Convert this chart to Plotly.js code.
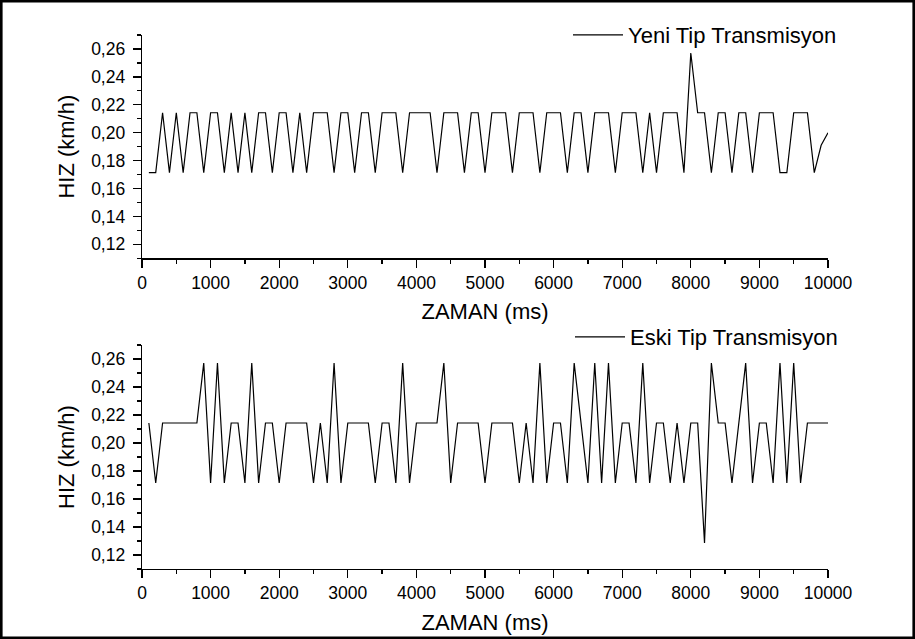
<!DOCTYPE html>
<html>
<head>
<meta charset="utf-8">
<script src="https://cdn.plot.ly/plotly-3.0.1.min.js"></script>
<style>
html,body{margin:0;padding:0;background:#fff;}
#chart{width:915px;height:639px;}
</style>
</head>
<body>
<div id="chart"></div>
<script>
// Time axis (ms)
const zaman = [100,200,300,400,500,600,700,800,900,1000,
  1100,1200,1300,1400,1500,1600,1700,1800,1900,2000,
  2100,2200,2300,2400,2500,2600,2700,2800,2900,3000,
  3100,3200,3300,3400,3500,3600,3700,3800,3900,4000,
  4100,4200,4300,4400,4500,4600,4700,4800,4900,5000,
  5100,5200,5300,5400,5500,5600,5700,5800,5900,6000,
  6100,6200,6300,6400,6500,6600,6700,6800,6900,7000,
  7100,7200,7300,7400,7500,7600,7700,7800,7900,8000,
  8100,8200,8300,8400,8500,8600,8700,8800,8900,9000,
  9100,9200,9300,9400,9500,9600,9700,9800,9900,10000];

// Yeni Tip Transmisyon speed (km/h)
const yeniHiz = [0.1714,0.1714,0.2143,0.1714,0.2143,0.1714,0.2143,0.2143,0.1714,0.2143,
  0.2143,0.1714,0.2143,0.1714,0.2143,0.1714,0.2143,0.2143,0.1714,0.2143,
  0.2143,0.1714,0.2143,0.1714,0.2143,0.2143,0.2143,0.1714,0.2143,0.2143,
  0.1714,0.2143,0.2143,0.1714,0.2143,0.2143,0.2143,0.1714,0.2143,0.2143,
  0.2143,0.2143,0.1714,0.2143,0.2143,0.2143,0.1714,0.2143,0.2143,0.1714,
  0.2143,0.2143,0.2143,0.1714,0.2143,0.2143,0.2143,0.1714,0.2143,0.2143,
  0.2143,0.1714,0.2143,0.2143,0.1714,0.2143,0.2143,0.2143,0.1714,0.2143,
  0.2143,0.2143,0.1714,0.2143,0.1714,0.2143,0.2143,0.2143,0.1714,0.2571,
  0.2143,0.2143,0.1714,0.2143,0.2143,0.1714,0.2143,0.2143,0.1714,0.2143,
  0.2143,0.2143,0.1714,0.1714,0.2143,0.2143,0.2143,0.1714,0.1910,0.2000];

// Eski Tip Transmisyon speed (km/h)
const eskiHiz = [0.2143,0.1714,0.2143,0.2143,0.2143,0.2143,0.2143,0.2143,0.2571,0.1714,
  0.2571,0.1714,0.2143,0.2143,0.1714,0.2571,0.1714,0.2143,0.2143,0.1714,
  0.2143,0.2143,0.2143,0.2143,0.1714,0.2143,0.1714,0.2571,0.1714,0.2143,
  0.2143,0.2143,0.2143,0.1714,0.2143,0.2143,0.1714,0.2571,0.1714,0.2143,
  0.2143,0.2143,0.2143,0.2571,0.1714,0.2143,0.2143,0.2143,0.2143,0.1714,
  0.2143,0.2143,0.2143,0.2143,0.1714,0.2143,0.1714,0.2571,0.1714,0.2143,
  0.2143,0.1714,0.2571,0.2143,0.1714,0.2571,0.1714,0.2571,0.1714,0.2143,
  0.2143,0.1714,0.2571,0.1714,0.2143,0.2143,0.1714,0.2143,0.1714,0.2143,
  0.2143,0.1286,0.2571,0.2143,0.2143,0.1714,0.2143,0.2571,0.1714,0.2143,
  0.2143,0.1714,0.2571,0.1714,0.2571,0.1714,0.2143,0.2143,0.2143,0.2143];

const seriesNames = ['Yeni Tip Transmisyon', 'Eski Tip Transmisyon'];
const xTickVals = [0,1000,2000,3000,4000,5000,6000,7000,8000,9000,10000];
const xTickText = ['0','1000','2000','3000','4000','5000','6000','7000','8000','9000','10000'];
const yTickVals = [0.12,0.14,0.16,0.18,0.20,0.22,0.24,0.26];
const yTickText = ['0,12','0,14','0,16','0,18','0,20','0,22','0,24','0,26'];
const xTitle = 'ZAMAN (ms)';
const yTitle = 'HIZ (km/h)';

const FONT = 'Liberation Sans, Arial, sans-serif';
const W = 915, H = 639;
const M = {l: 142, r: 87, t: 35, b: 70};
const PW = W - M.l - M.r, PH = H - M.t - M.b;

function xAxis(anchor) {
  return {
    anchor: anchor, domain: [0, 1], range: [0, 10000],
    tickmode: 'array', tickvals: xTickVals, ticktext: xTickText,
    ticks: 'outside', ticklen: 8, tickwidth: 1.3, tickcolor: '#000',
    minor: {tickmode: 'linear', tick0: 0, dtick: 500, ticks: 'outside', ticklen: 4, tickwidth: 1.3, tickcolor: '#000', showgrid: false},
    showline: true, linecolor: '#000', linewidth: 1.3, mirror: false,
    showgrid: false, zeroline: false,
    tickfont: {family: FONT, size: 17.5, color: '#000'},
    title: {text: xTitle, font: {family: FONT, size: 22, color: '#000'}, standoff: 12}
  };
}
function yAxis(anchor, domain) {
  return {
    anchor: anchor, domain: domain, range: [0.11, 0.27],
    tickmode: 'array', tickvals: yTickVals, ticktext: yTickText,
    ticks: 'outside', ticklen: 8, tickwidth: 1.3, tickcolor: '#000',
    minor: {tickmode: 'linear', tick0: 0.11, dtick: 0.01, ticks: 'outside', ticklen: 4, tickwidth: 1.3, tickcolor: '#000', showgrid: false},
    showline: true, linecolor: '#000', linewidth: 1.3, mirror: false,
    showgrid: false, zeroline: false,
    ticklabelstandoff: 4,
    tickfont: {family: FONT, size: 17.5, color: '#000'},
    title: {text: yTitle, font: {family: FONT, size: 22, color: '#000'}, standoff: 10}
  };
}

const topBottomPx = 258.3, botTopPx = 345;
const topDomain = [(H - M.b - topBottomPx) / PH, 1];
const botDomain = [0, (H - M.b - botTopPx) / PH];

const traces = [
  {x: zaman, y: yeniHiz, type: 'scatter', mode: 'lines', name: seriesNames[0],
   xaxis: 'x', yaxis: 'y', legend: 'legend',
   line: {color: '#000', width: 1.2}},
  {x: zaman, y: eskiHiz, type: 'scatter', mode: 'lines', name: seriesNames[1],
   xaxis: 'x2', yaxis: 'y2', legend: 'legend2',
   line: {color: '#000', width: 1.2}}
];

const legendBase = {
  font: {family: FONT, size: 22, color: '#000'},
  bgcolor: 'rgba(0,0,0,0)', borderwidth: 0,
  xanchor: 'left', yanchor: 'middle', itemwidth: 50
};

const layout = {
  width: W, height: H,
  margin: M,
  paper_bgcolor: '#fff', plot_bgcolor: '#fff',
  showlegend: true,
  xaxis: xAxis('y'),
  yaxis: yAxis('x', topDomain),
  xaxis2: xAxis('y2'),
  yaxis2: yAxis('x2', botDomain),
  legend: Object.assign({}, legendBase, {x: (568 - M.l) / PW, y: 1.0}),
  legend2: Object.assign({}, legendBase, {x: (570 - M.l) / PW, y: (H - M.b - 337) / PH}),
  shapes: [{
    type: 'rect', xref: 'paper', yref: 'paper', layer: 'above',
    x0: (-M.l + 1.3) / PW, x1: 1 + (M.r - 1.3) / PW,
    y0: -(M.b - 1.3) / PH, y1: 1 + (M.t - 1.3) / PH,
    line: {color: '#000', width: 2.6}, fillcolor: 'rgba(0,0,0,0)'
  }]
};

Plotly.newPlot('chart', traces, layout, {displayModeBar: false, staticPlot: true});
</script>
</body>
</html>
